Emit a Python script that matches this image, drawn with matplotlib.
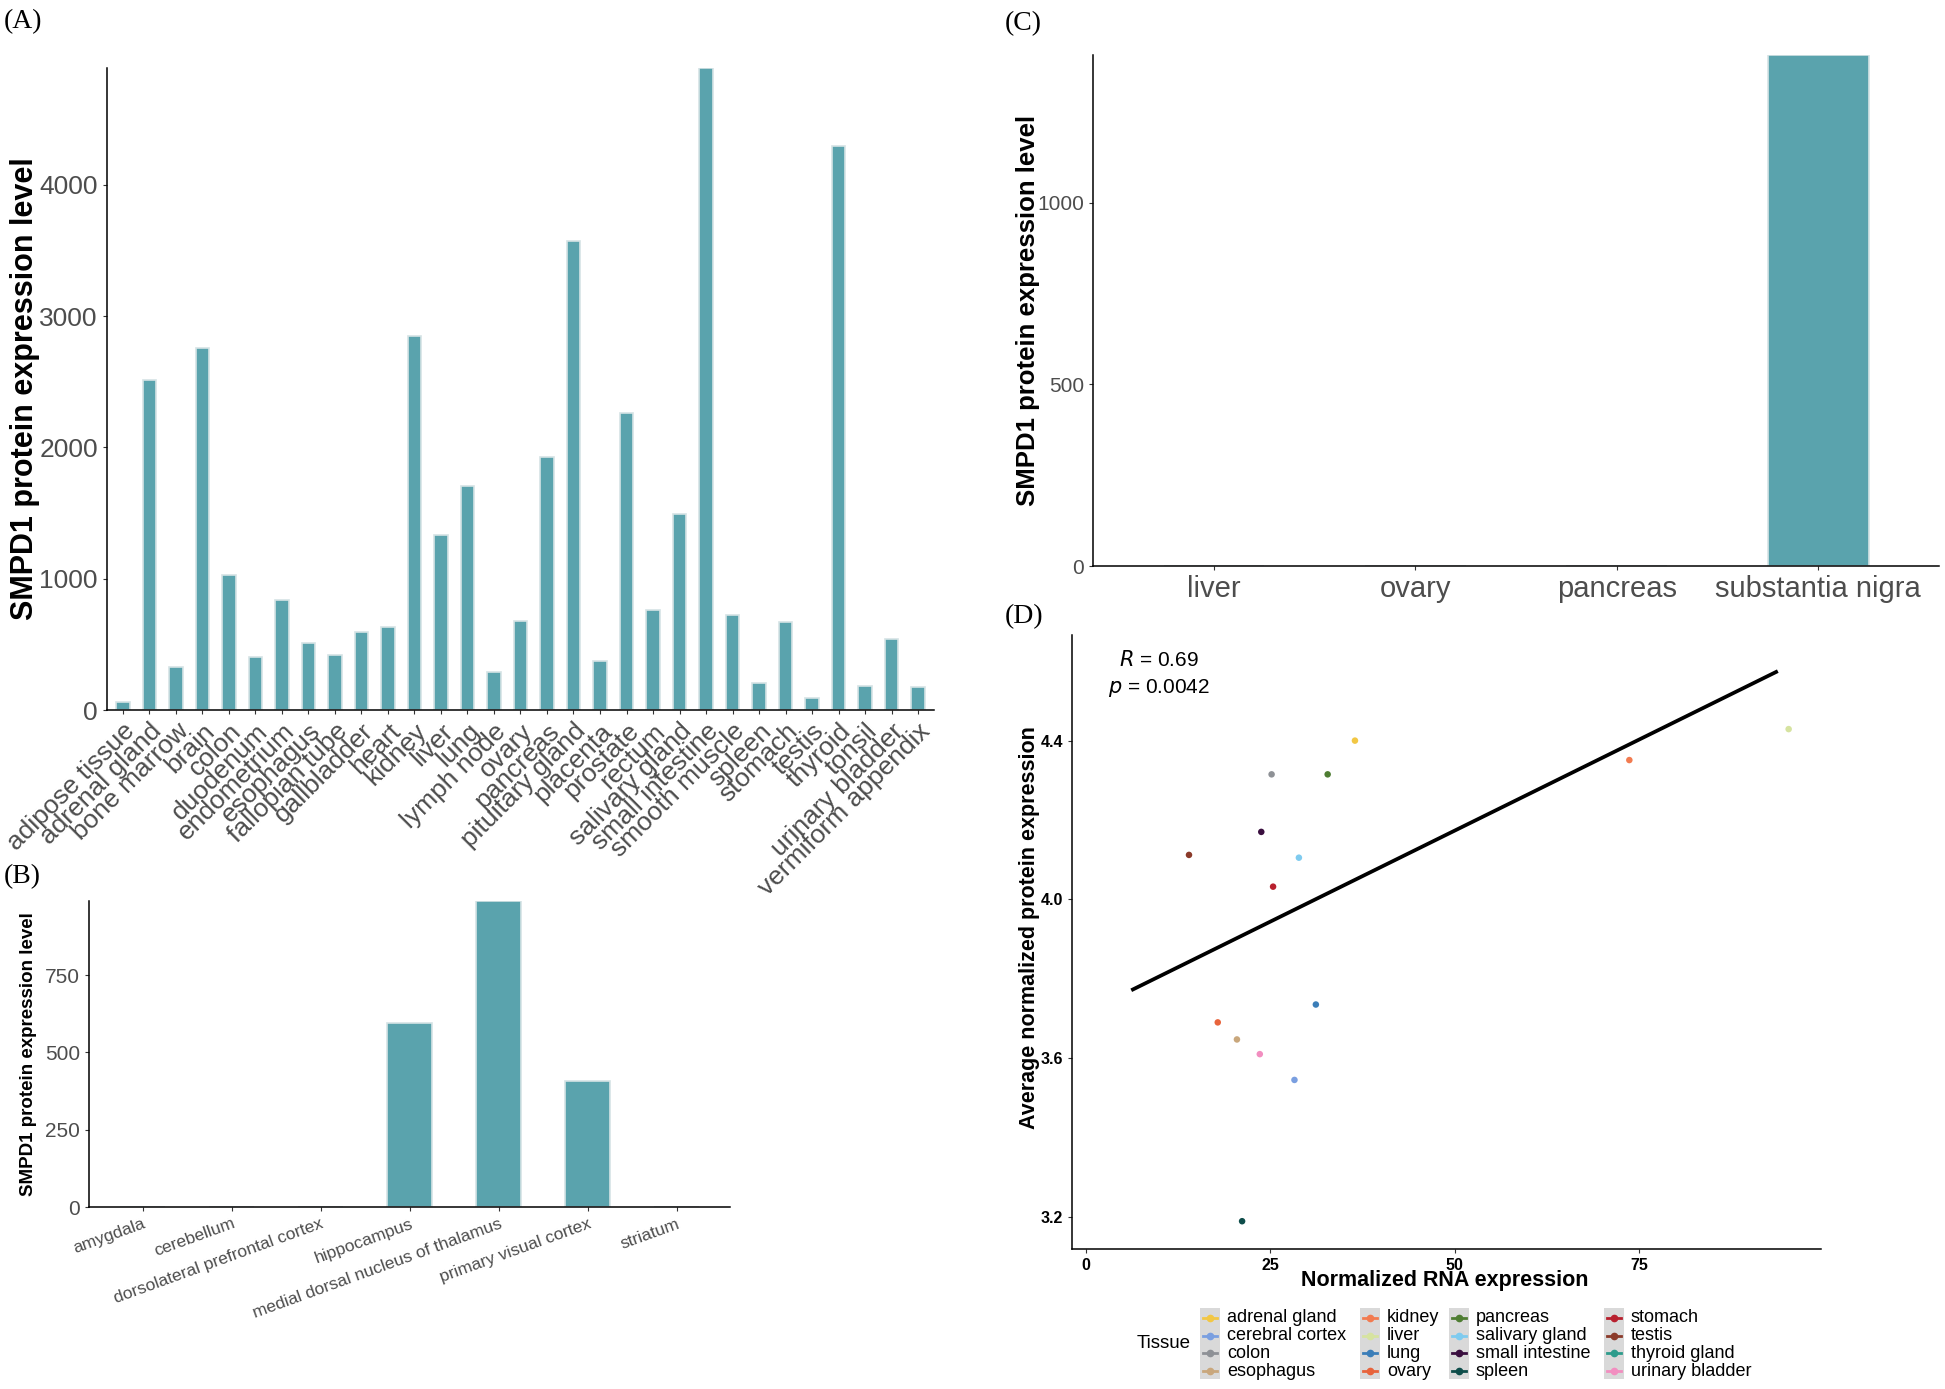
import numpy as np
import matplotlib
matplotlib.use("Agg")
import matplotlib.pyplot as plt
from matplotlib.patches import Rectangle

plt.rcParams['font.family'] = ['Liberation Sans', 'DejaVu Sans']
SERIF = ['Liberation Serif', 'DejaVu Serif']

BAR = '#5AA3AD'
EDGE = '#D5E3E5'
GREY = '#4D4D4D'

# (A) protein level per tissue
tissues_a = ['adipose tissue', 'adrenal gland', 'bone marrow', 'brain', 'colon',
             'duodenum', 'endometrium', 'esophagus', 'fallopian tube', 'gallbladder',
             'heart', 'kidney', 'liver', 'lung', 'lymph node', 'ovary', 'pancreas',
             'pituitary gland', 'placenta', 'prostate', 'rectum', 'salivary gland',
             'small intestine', 'smooth muscle', 'spleen', 'stomach', 'testis',
             'thyroid', 'tonsil', 'urinary bladder', 'vermiform appendix']
protein_a = [63, 2516, 326, 2754, 1028, 404, 839, 509, 418, 596,
             635, 2846, 1333, 1709, 288, 681, 1930, 3572, 372, 2263,
             761, 1491, 4888, 723, 207, 670, 91, 4298, 186, 544, 175]

# (B) brain regions
regions_b = ['amygdala', 'cerebellum', 'dorsolateral prefrontal cortex', 'hippocampus',
             'medial dorsal nucleus of thalamus', 'primary visual cortex', 'striatum']
protein_b = [0, 0, 0, 595, 990, 409, 0]

# (C)
tissues_c = ['liver', 'ovary', 'pancreas', 'substantia nigra']
protein_c = [0, 0, 0, 1406]

# (D) RNA vs protein
tissues_d = ['adrenal gland', 'cerebral cortex', 'colon', 'esophagus',
             'kidney', 'liver', 'lung', 'ovary',
             'pancreas', 'salivary gland', 'small intestine', 'spleen',
             'stomach', 'testis', 'thyroid gland', 'urinary bladder']
rna_d = [36.5, 28.3, 25.2, 20.5, 73.7, 95.3, 31.2, 17.9,
         32.8, 28.9, 23.8, 21.2, 25.4, 14.0, np.nan, 23.6]
prot_d = [4.400, 3.545, 4.315, 3.647, 4.351, 4.429, 3.735, 3.690,
          4.315, 4.105, 4.170, 3.189, 4.032, 4.112, np.nan, 3.610]
colors_d = ['#F2C744', '#7A9FE0', '#8E9196', '#C9A77C',
            '#F27B50', '#D6E3A0', '#3B7EB8', '#E8643C',
            '#4E7D32', '#7FCBEF', '#3A0F3F', '#0E4D4A',
            '#B8202E', '#8B3A2A', '#2E9C8C', '#F28EC0']
fit_x = [6.4, 93.6]
fit_y = [3.773, 4.573]

fig = plt.figure(figsize=(19.45, 13.89), dpi=100)


def style(ax):
    for s in ['top', 'right']:
        ax.spines[s].set_visible(False)
    for s in ['left', 'bottom']:
        ax.spines[s].set_linewidth(1.1)
        ax.spines[s].set_color('black')
    ax.tick_params(length=3, width=0.8, color='#333333', labelcolor=GREY)


def bars(ax, cats, vals):
    x = np.arange(len(cats))
    ax.bar(x, vals, width=0.5, color=BAR, edgecolor=EDGE, linewidth=1.2, zorder=1)
    ax.set_xlim(-0.6, len(cats) - 0.4)
    ax.set_ylim(0, max(vals))
    ax.set_xticks(x)
    style(ax)


# ---- A
axA = fig.add_axes([0.0550, 0.4888, 0.4252, 0.4622])
bars(axA, tissues_a, protein_a)
axA.set_yticks([0, 1000, 2000, 3000, 4000])
axA.set_xticklabels(tissues_a, rotation=45, ha='right', rotation_mode='anchor',
                    fontsize=19)
axA.tick_params(axis='y', labelsize=19)
axA.set_ylabel('SMPD1 protein expression level', fontsize=22, fontweight='bold')
axA.yaxis.set_label_coords(-0.081, 0.5)

# ---- B
axB = fig.add_axes([0.0458, 0.1310, 0.3296, 0.2203])
bars(axB, regions_b, protein_b)
axB.set_yticks([0, 250, 500, 750])
axB.set_xticklabels(regions_b, rotation=20, ha='right', rotation_mode='anchor',
                    fontsize=12.5)
axB.tick_params(axis='y', labelsize=15)
axB.set_ylabel('SMPD1 protein expression level', fontsize=13.5, fontweight='bold')
axB.yaxis.set_label_coords(-0.081, 0.5)

# ---- C
axC = fig.add_axes([0.5620, 0.5925, 0.4350, 0.3679])
bars(axC, tissues_c, protein_c)
axC.set_yticks([0, 500, 1000])
axC.set_xticklabels(tissues_c, fontsize=21)
axC.tick_params(axis='y', labelsize=15)
axC.set_ylabel('SMPD1 protein expression level', fontsize=18.5, fontweight='bold')
axC.yaxis.set_label_coords(-0.063, 0.5)

# ---- D
axD = fig.add_axes([0.5512, 0.1008, 0.3851, 0.4420])
axD.scatter(rna_d, prot_d, c=colors_d, s=22, zorder=3, linewidths=0)
axD.plot(fit_x, fit_y, color='black', linewidth=2.7, zorder=2)
axD.set_xlim(-1.85, 99.7)
axD.set_ylim(3.119, 4.666)
axD.set_xticks([0, 25, 50, 75])
axD.set_yticks([3.2, 3.6, 4.0, 4.4])
style(axD)
axD.tick_params(labelcolor='black', labelsize=11.5)
for t in axD.get_xticklabels() + axD.get_yticklabels():
    t.set_fontweight('bold')
axD.set_xlabel('Normalized RNA expression', fontsize=15.5, fontweight='bold')
axD.set_ylabel('Average normalized protein expression', fontsize=15.5, fontweight='bold')
axD.xaxis.set_label_coords(0.498, -0.034)
axD.yaxis.set_label_coords(-0.043, 0.524)
axD.text(9.9, 4.604, r'$\it{R}$ = 0.69', ha='center', va='center', fontsize=15)
axD.text(9.9, 4.533, r'$\it{p}$ = 0.0042', ha='center', va='center', fontsize=15)

# panel letters
for lab, x, y in [('(A)', 4, 9), ('(B)', 4, 864), ('(C)', 1005, 11), ('(D)', 1005, 604)]:
    fig.text(x / 1945, 1 - y / 1389, lab, fontsize=20, family=SERIF, ha='left', va='top')

# legend for D, drawn in figure pixel space
axL = fig.add_axes([0, 0, 1, 1])
axL.set_xlim(0, 1945)
axL.set_ylim(1389, 0)
axL.axis('off')
axL.patch.set_visible(False)
key_x = [1210, 1370, 1459, 1614]
row_y = [1318, 1336, 1353, 1371]
axL.text(1137, 1344, 'Tissue', fontsize=13.5, ha='left', va='center')
for i, (name, col) in enumerate(zip(tissues_d, colors_d)):
    c, r = divmod(i, 4)
    if r == 0:
        axL.add_patch(Rectangle((key_x[c] - 10, 1308), 20, 71, color='#D9D9D9', lw=0))
    axL.plot([key_x[c] - 7, key_x[c] + 7], [row_y[r], row_y[r]], color=col, lw=2)
    axL.plot(key_x[c], row_y[r], 'o', color=col, ms=4.5)
    axL.text(key_x[c] + 17, row_y[r], name, fontsize=13, ha='left', va='center')

fig.savefig('out.png', dpi=100)
